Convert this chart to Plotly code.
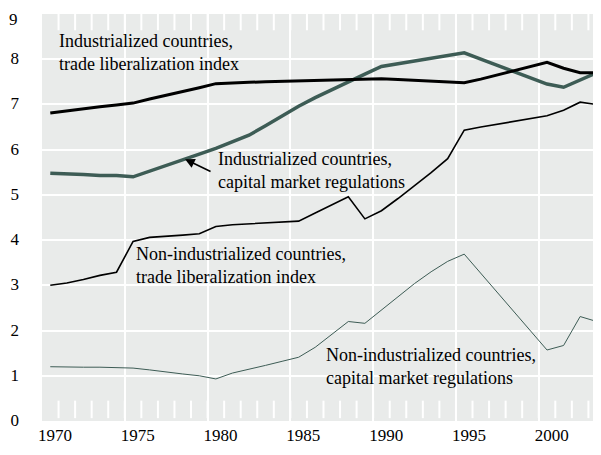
import plotly.graph_objects as go

years = list(range(1970, 2004))

ind_trade = [6.81, 6.86, 6.90, 6.95, 6.99, 7.03, 7.12, 7.20, 7.29, 7.37,
             7.46, 7.48, 7.49, 7.50, 7.51, 7.52, 7.53, 7.54, 7.55, 7.57,
             7.57, 7.55, 7.53, 7.51, 7.50, 7.48, 7.56, 7.65, 7.75, 7.84,
             7.93, 7.80, 7.70, 7.70]

ind_capital = [5.48, 5.47, 5.45, 5.43, 5.43, 5.40, 5.52, 5.64, 5.77, 5.90,
               6.03, 6.17, 6.32, 6.53, 6.75, 6.96, 7.15, 7.33, 7.50, 7.67,
               7.84, 7.90, 7.96, 8.02, 8.08, 8.14, 8.00, 7.86, 7.72, 7.58,
               7.45, 7.38, 7.55, 7.70]

non_trade = [3.00, 3.05, 3.13, 3.22, 3.29, 3.97, 4.06, 4.08, 4.11, 4.14,
             4.30, 4.34, 4.36, 4.38, 4.40, 4.42, 4.60, 4.78, 4.96, 4.47,
             4.65, 4.92, 5.20, 5.49, 5.80, 6.43, 6.50, 6.56, 6.62, 6.68,
             6.75, 6.87, 7.05, 7.00]

non_capital = [1.20, 1.19, 1.19, 1.19, 1.18, 1.17, 1.13, 1.08, 1.04, 1.00,
               0.93, 1.06, 1.14, 1.23, 1.32, 1.41, 1.63, 1.92, 2.20, 2.16,
               2.45, 2.75, 3.04, 3.30, 3.53, 3.69, 3.27, 2.85, 2.42, 2.00,
               1.57, 1.67, 2.31, 2.20]

x_tick_labels = ["1970", "1975", "1980", "1985", "1990", "1995", "2000"]
x_tick_pos = [1969.5, 1974.5, 1979.5, 1984.5, 1989.5, 1994.5, 1999.5]
y_ticks = list(range(0, 10))

TEAL = "#3d5c55"
FONT = "Liberation Serif"

fig = go.Figure()
fig.add_trace(go.Scatter(x=years, y=non_capital, mode="lines",
                         line=dict(color=TEAL, width=1), hoverinfo="skip"))
fig.add_trace(go.Scatter(x=years, y=non_trade, mode="lines",
                         line=dict(color="black", width=1.6), hoverinfo="skip"))
fig.add_trace(go.Scatter(x=years, y=ind_capital, mode="lines",
                         line=dict(color=TEAL, width=3.5), hoverinfo="skip"))
fig.add_trace(go.Scatter(x=years, y=ind_trade, mode="lines",
                         line=dict(color="black", width=3), hoverinfo="skip"))

ann_font = dict(family=FONT, size=18, color="black")
labels = [
    ("Industrialized countries,<br>trade liberalization index", 1970.41, 8.14),
    ("Industrialized countries,<br>capital market regulations", 1980.0, 5.55),
    ("Non-industrialized countries,<br>trade liberalization index", 1975.06, 3.43),
    ("Non-industrialized countries,<br>capital market regulations", 1986.53, 1.21),
]
for txt, ax_, ay_ in labels:
    fig.add_annotation(x=ax_, y=ay_, text=txt, showarrow=False,
                       xanchor="left", yanchor="middle", align="left",
                       font=ann_font)

fig.add_annotation(x=1978.14, y=5.79, text="", showarrow=True,
                   arrowhead=2, arrowsize=1.2, arrowwidth=1.6, arrowcolor="black",
                   ax=27, ay=13)

# the top y tick label sits a little below the plot's top edge in the reference
top_tick = y_ticks[-1]
fig.add_annotation(x=0, xref="paper", y=top_tick, yref="y", text=str(top_tick),
                   showarrow=False, xanchor="right", yanchor="middle",
                   xshift=-22, yshift=-5,
                   font=dict(family=FONT, size=17, color="black"))

# short white year ticks along the bottom and top edges of the plot area
for yr in range(1971, 2004):
    xv = yr - 0.5
    fig.add_shape(type="line", xref="x", yref="paper", x0=xv, x1=xv,
                  y0=0.007, y1=0.05, line=dict(color="white", width=2),
                  layer="below")
    fig.add_shape(type="line", xref="x", yref="paper", x0=xv, x1=xv,
                  y0=0.96, y1=1.0, line=dict(color="white", width=2),
                  layer="below")

# page body has an 8px default margin; compensate so the plot sits where the reference has it
fig.update_layout(
    width=601, height=455,
    margin=dict(l=34, r=8, t=6, b=42),
    paper_bgcolor="white",
    plot_bgcolor="#e9ebea",
    showlegend=False,
    font=dict(family=FONT, size=17, color="black"),
)

alias = {f"{p:.1f}": t for p, t in zip(x_tick_pos, x_tick_labels)}

fig.update_xaxes(
    range=[1969.5, 2003.26], automargin=False,
    tickmode="linear", tick0=x_tick_pos[0], dtick=5, tickformat=".1f",
    labelalias=alias,
    ticks="", showgrid=True, gridcolor="white", gridwidth=2,
    ticklabelshift=13, ticklabelstandoff=2,
    zeroline=False, showline=False,
    tickfont=dict(family=FONT, size=17, color="black"),
)
fig.update_yaxes(
    range=[0, 9], automargin=False,
    tickmode="array", tickvals=y_ticks[:-1],
    ticks="", showgrid=True, gridcolor="white", gridwidth=2,
    zeroline=False, showline=False, ticklabelstandoff=22,
    ticklabelshift=-1,
    tickfont=dict(family=FONT, size=17, color="black"),
)

fig.write_html("out.html")
